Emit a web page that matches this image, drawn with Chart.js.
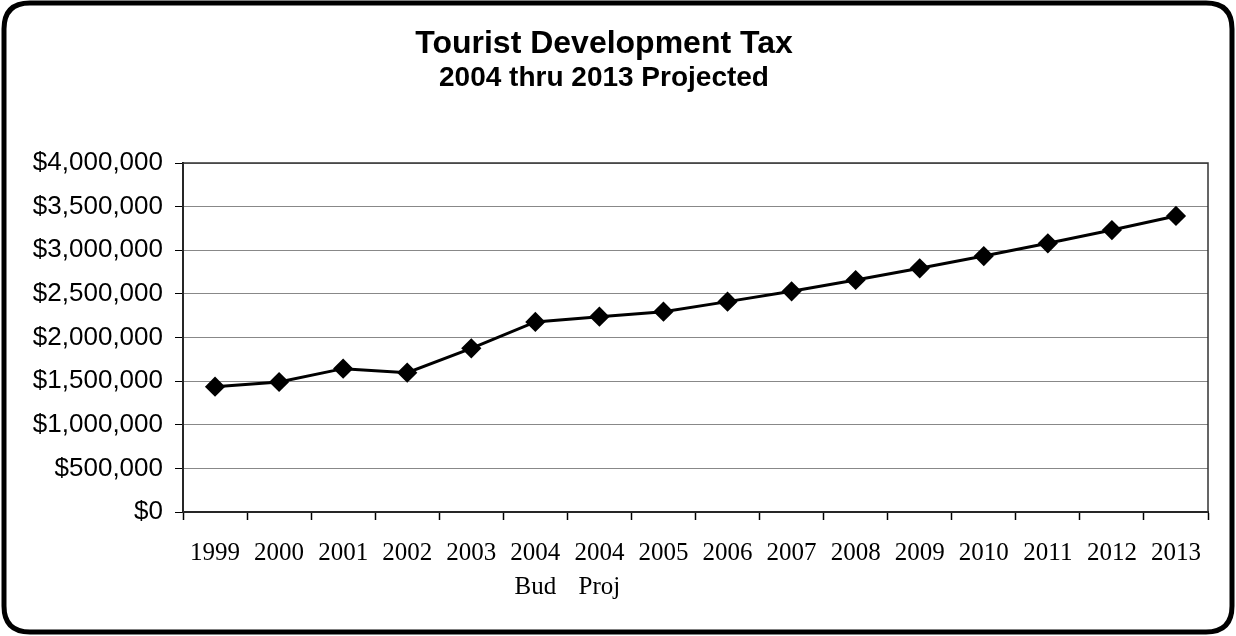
<!DOCTYPE html>
<html lang="en">
<head>
  <meta charset="UTF-8">
  <title>Tourist Development Tax</title>
  <script src="https://cdn.jsdelivr.net/npm/chart.js"></script>
  <style>
    html, body { margin: 0; padding: 0; background: #fff; }
    #wrap { width: 1236px; height: 636px; }
  </style>
</head>
<body>
  <div id="wrap"><canvas id="tdtChart" width="1236" height="636"></canvas></div>

  <script>
    // Fiscal years (2004 budget and 2004 projection shown separately)
    const years = ['1999', '2000', '2001', '2002', '2003', ['2004', 'Bud'], ['2004', 'Proj'],
      '2005', '2006', '2007', '2008', '2009', '2010', '2011', '2012', '2013'];

    // Tax collections in dollars
    const taxRevenue = [1436000, 1490000, 1643000, 1597000, 1876000, 2178000, 2239000,
      2296000, 2411000, 2529000, 2659000, 2793000, 2934000, 3080000, 3232000, 3393000];

    const yMin = 0;
    const yMax = 4000000;
    const yStep = 500000;

    // Outer rounded frame + white background
    const framePlugin = {
      id: 'frame',
      beforeDraw(chart) {
        const c = chart.ctx;
        c.save();
        c.fillStyle = '#fff';
        c.fillRect(0, 0, chart.width, chart.height);
        const x = 4, y = 3, w = chart.width - 8, h = chart.height - 7, r = 26;
        c.lineWidth = 5;
        c.strokeStyle = '#000';
        c.beginPath();
        c.moveTo(x + r, y);
        c.lineTo(x + w - r, y);
        c.quadraticCurveTo(x + w, y, x + w, y + r);
        c.lineTo(x + w, y + h - r);
        c.quadraticCurveTo(x + w, y + h, x + w - r, y + h);
        c.lineTo(x + r, y + h);
        c.quadraticCurveTo(x, y + h, x, y + h - r);
        c.lineTo(x, y + r);
        c.quadraticCurveTo(x, y, x + r, y);
        c.closePath();
        c.stroke();
        c.restore();
      }
    };

    // Box round the plot area
    const plotBorder = {
      id: 'plotBorder',
      beforeDatasetsDraw(chart) {
        const a = chart.chartArea;
        const c = chart.ctx;
        c.save();
        c.strokeStyle = '#333';
        c.lineWidth = 1.5;
        c.strokeRect(a.left, a.top, a.right - a.left, a.bottom - a.top);
        c.restore();
      }
    };

    const ctx = document.getElementById('tdtChart').getContext('2d');
    new Chart(ctx, {
      type: 'line',
      data: {
        labels: years,
        datasets: [{
          label: 'Tourist Development Tax',
          data: taxRevenue,
          borderColor: '#000',
          backgroundColor: '#000',
          borderWidth: 3,
          pointStyle: 'rectRot',
          pointRadius: 8,
          pointHoverRadius: 8,
          tension: 0,
          fill: false
        }]
      },
      options: {
        responsive: false,
        animation: false,
        layout: { padding: { left: 0, right: 28, top: 0, bottom: 0 } },
        plugins: {
          legend: { display: false },
          tooltip: { enabled: false },
          title: {
            display: true,
            text: 'Tourist Development Tax',
            color: '#000',
            font: { family: 'Liberation Sans, Arial', size: 32, weight: 'bold', lineHeight: 1 },
            padding: { top: 28, bottom: 0 }
          },
          subtitle: {
            display: true,
            text: '2004 thru 2013 Projected',
            color: '#000',
            font: { family: 'Liberation Sans, Arial', size: 28, weight: 'bold', lineHeight: 1 },
            padding: { top: 4, bottom: 71 }
          }
        },
        scales: {
          x: {
            offset: true,
            grid: {
              offset: true,
              drawOnChartArea: false,
              drawTicks: true,
              tickLength: 8,
              tickColor: '#000',
              tickWidth: 1.5
            },
            border: { color: '#000', width: 2 },
            ticks: {
              color: '#000',
              autoSkip: false,
              maxRotation: 0,
              padding: 16,
              font: { family: 'Liberation Serif, Times New Roman', size: 25, lineHeight: 1.36 }
            },
            afterFit(scale) { scale.height = 124; }
          },
          y: {
            min: yMin,
            max: yMax,
            grid: {
              color: '#888',
              lineWidth: 1,
              drawTicks: true,
              tickLength: 8,
              tickColor: '#000'
            },
            border: { color: '#000', width: 2 },
            ticks: {
              stepSize: yStep,
              color: '#000',
              padding: 12,
              font: { family: 'Liberation Sans, Arial', size: 26 },
              callback: v => '$' + v.toLocaleString('en-US')
            },
            afterFit(scale) { scale.width = 183; }
          }
        }
      },
      plugins: [framePlugin, plotBorder]
    });
  </script>
</body>
</html>
